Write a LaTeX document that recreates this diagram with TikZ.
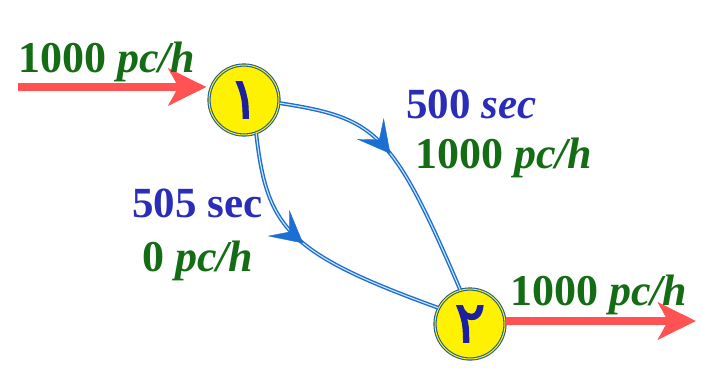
\documentclass[tikz,border=0pt]{standalone}
\usepackage{fontspec}
\setmainfont{Liberation Serif}
\newfontfamily\persianfont[Script=Arabic,FakeBold=2]{DejaVu Sans}
\usetikzlibrary{arrows.meta,decorations.markings}

\definecolor{flowgreen}{HTML}{146C14}
\definecolor{timeblue}{HTML}{2A2DB8}
\definecolor{flowred}{HTML}{FF5353}
\definecolor{roadblue}{HTML}{1B6FD2}
\definecolor{roadlight}{HTML}{D2E6FA}
\definecolor{ringblue}{HTML}{1F5A9C}
\definecolor{digitblue}{HTML}{1C20A0}

\begin{document}
\begin{tikzpicture}[x=1pt, y=-1pt,
  junction/.style={circle, fill=yellow, draw=ringblue, double=yellow,
    line width=1.1pt, double distance=1pt, minimum size=70pt, inner sep=0pt,
    text=digitblue, font=\persianfont\fontsize{58}{58}\selectfont},
  flow/.style={draw=flowred, line width=8pt,
    -{Stealth[length=38pt, width=37pt, inset=10pt]}},
  road/.style={draw=roadblue, double=roadlight, line width=1.4pt, double distance=1.1pt},
  roadtip/.style={color=roadblue, postaction={decorate, decoration={markings,
    mark=at position #1 with {\arrow{Stealth[length=32pt, width=34pt, inset=14pt]}}}}},
  vol/.style={anchor=base west, inner sep=0pt, text=flowgreen,
    font=\fontsize{44}{46}\selectfont\bfseries},
  time/.style={anchor=base west, inner sep=0pt, text=timeblue,
    font=\fontsize{43}{46}\selectfont\bfseries}]
  \useasboundingbox (0,0) rectangle (702,368);

  % Junctions
  \node[junction] (n1) at (244,100) {۱};
  \node[junction] (n2) at (470,324) {۲};

  % Entry and exit flows
  \coordinate (inflow) at (18,87);
  \coordinate (outflow) at (696,321);
  \draw[flow] (inflow) -- ([xshift=-2pt]inflow -| n1.west);
  \draw[flow] (n2.east |- outflow) -- (outflow);

  % Routes
  \draw[road] (n1.-5) .. controls (375,118) and (392,130) .. (n2.106);
  \path[roadtip=0.45] (n1.-5) .. controls (375,118) and (392,130) .. (n2.106);
  \draw[road] (n1.-70) .. controls (267,228) and (287,253) .. (n2.153);
  \path[roadtip=0.45] (n1.-70) .. controls (267,228) and (287,253) .. (n2.153);

  % Labels
  \node[vol] (inlabel) at (18,72) {1000 \textit{pc/h}};
  \node[time] (uptime) at (406,118) {500 \textit{sec}};
  \node[vol] (upvol) at (415,168) {1000 \textit{pc/h}};
  \node[time] (lowtime) at (132,217) {505 sec};
  \node[vol] (lowvol) at (142,271) {0 \textit{pc/h}};
  \node[vol] (outlabel) at (510,305) {1000 \textit{pc/h}};
\end{tikzpicture}
\end{document}
